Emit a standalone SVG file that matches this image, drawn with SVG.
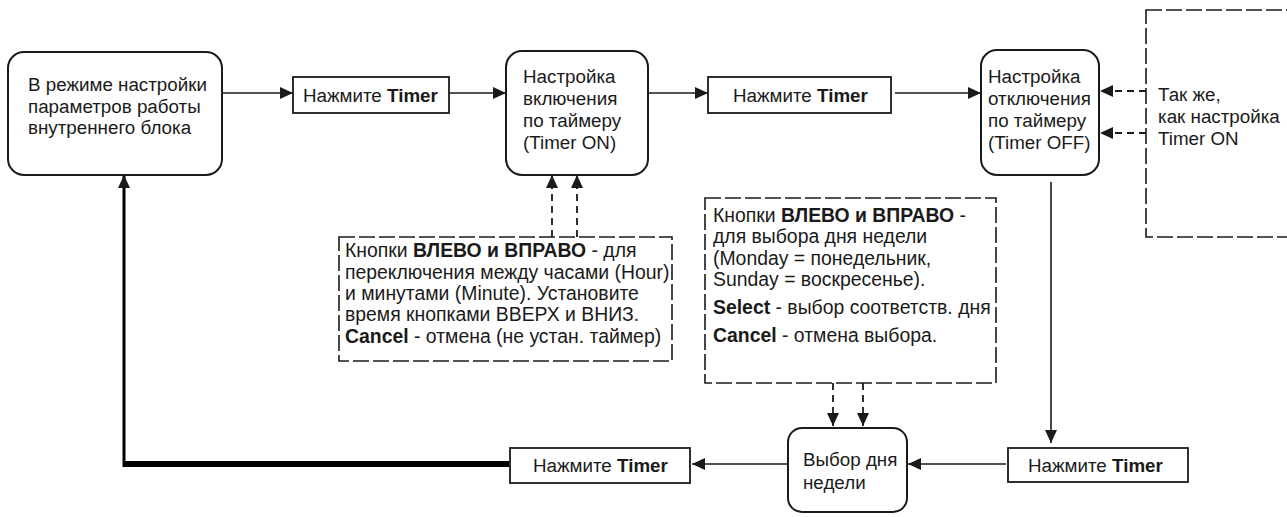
<svg xmlns="http://www.w3.org/2000/svg" width="1287" height="517" viewBox="0 0 1287 517">
<style>
text{font-family:"Liberation Sans",Arial,sans-serif;font-size:18.8px;fill:#1a1a1a}
.n text{font-size:19.4px}
.b{font-weight:bold}
.node{fill:#fff;stroke:#1a1a1a;stroke-width:2}
.box{fill:#fff;stroke:#1a1a1a;stroke-width:1.8}
.dbox{fill:#fff;stroke:#1a1a1a;stroke-width:1.6;stroke-dasharray:16 4}
.ln{fill:none;stroke:#1a1a1a;stroke-width:1.6}
.dl{fill:none;stroke:#1a1a1a;stroke-width:1.8;stroke-dasharray:7 5}
</style>
<defs>
<marker id="ah" markerUnits="userSpaceOnUse" markerWidth="14" markerHeight="12" refX="13" refY="6" orient="auto">
<path d="M0,0 L13,6 L0,12 Z" fill="#1a1a1a"/>
</marker>
</defs>

<g id="connectors">
<line class="ln" x1="222" y1="93" x2="293" y2="93" marker-end="url(#ah)"/>
<line class="ln" x1="449" y1="93" x2="506" y2="93" marker-end="url(#ah)"/>
<line class="ln" x1="648" y1="93" x2="708" y2="93" marker-end="url(#ah)"/>
<line class="ln" x1="895" y1="93" x2="981" y2="93" marker-end="url(#ah)"/>
<line class="dl" x1="1146" y1="91" x2="1100" y2="91" marker-end="url(#ah)"/>
<line class="dl" x1="1146" y1="133" x2="1100" y2="133" marker-end="url(#ah)"/>
<line class="dl" x1="552" y1="237" x2="552" y2="175" marker-end="url(#ah)"/>
<line class="dl" x1="577" y1="237" x2="577" y2="175" marker-end="url(#ah)"/>
<line class="ln" x1="1051" y1="182" x2="1051" y2="443" marker-end="url(#ah)"/>
<line class="ln" x1="1006" y1="464" x2="908" y2="464" marker-end="url(#ah)"/>
<line class="ln" x1="788" y1="464" x2="692" y2="464" marker-end="url(#ah)"/>
<line class="dl" x1="833" y1="383" x2="833" y2="426" marker-end="url(#ah)"/>
<line class="dl" x1="863" y1="383" x2="863" y2="426" marker-end="url(#ah)"/>
<line x1="509" y1="464" x2="124" y2="464" stroke="#000" stroke-width="6"/>
<line x1="124" y1="467" x2="124" y2="175" stroke="#000" stroke-width="3" marker-end="url(#ah)"/>
</g>

<g id="node-indoor">
<rect class="node" x="8" y="52" width="214" height="123" rx="16"/>
<text x="28" y="91">В режиме настройки</text>
<text x="28" y="113">параметров работы</text>
<text x="28" y="134">внутреннего блока</text>
</g>

<g id="node-press1">
<rect class="box" x="293" y="77" width="156" height="36"/>
<text x="303" y="102">Нажмите <tspan class="b">Timer</tspan></text>
</g>

<g id="node-timer-on">
<rect class="node" x="506" y="51" width="142" height="124" rx="16"/>
<text x="523" y="83">Настройка</text>
<text x="523" y="105">включения</text>
<text x="523" y="127">по таймеру</text>
<text x="523" y="149">(Timer ON)</text>
</g>

<g id="node-press2">
<rect class="box" x="708" y="77" width="183" height="36"/>
<text x="733" y="102">Нажмите <tspan class="b">Timer</tspan></text>
</g>

<g id="node-timer-off">
<rect class="node" x="981" y="50" width="118" height="125" rx="16"/>
<text x="988" y="83">Настройка</text>
<text x="988" y="105">отключения</text>
<text x="988" y="127">по таймеру</text>
<text x="988" y="149">(Timer OFF)</text>
</g>

<g id="note-same">
<rect class="dbox" x="1146" y="10" width="160" height="227"/>
<text x="1158" y="101">Так же,</text>
<text x="1158" y="123">как настройка</text>
<text x="1158" y="145">Timer ON</text>
</g>

<g id="note-on" class="n">
<rect class="dbox" x="339" y="237" width="333" height="124"/>
<text x="345" y="257">Кнопки <tspan class="b">ВЛЕВО и ВПРАВО</tspan> - для</text>
<text x="345" y="279">переключения между часами (Hour)</text>
<text x="345" y="300">и минутами (Minute). Установите</text>
<text x="345" y="321">время кнопками ВВЕРХ и ВНИЗ.</text>
<text x="345" y="343"><tspan class="b">Cancel</tspan> - отмена (не устан. таймер)</text>
</g>

<g id="note-day" class="n">
<rect class="dbox" x="705" y="198" width="291" height="185"/>
<text x="713" y="222">Кнопки <tspan class="b">ВЛЕВО и ВПРАВО</tspan> -</text>
<text x="713" y="243">для выбора дня недели</text>
<text x="713" y="265">(Monday = понедельник,</text>
<text x="713" y="286">Sunday = воскресенье).</text>
<text x="713" y="314"><tspan class="b">Select</tspan> - выбор соответств. дня</text>
<text x="713" y="342"><tspan class="b">Cancel</tspan> - отмена выбора.</text>
</g>

<g id="node-day">
<rect class="node" x="788" y="428" width="119" height="84" rx="14"/>
<text x="803" y="466">Выбор дня</text>
<text x="803" y="489">недели</text>
</g>

<g id="node-press3">
<rect class="box" x="1008" y="448" width="180" height="34"/>
<text x="1028" y="472">Нажмите <tspan class="b">Timer</tspan></text>
</g>

<g id="node-press4">
<rect class="box" x="510" y="448" width="180" height="35"/>
<text x="533" y="472">Нажмите <tspan class="b">Timer</tspan></text>
</g>
</svg>
